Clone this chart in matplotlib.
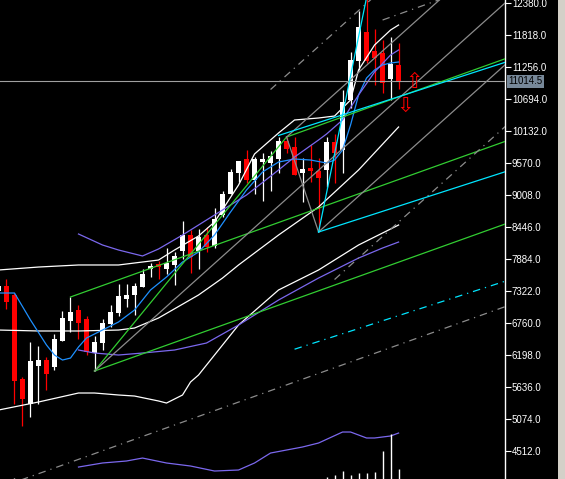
import matplotlib
matplotlib.use("Agg")
import matplotlib.pyplot as plt
import matplotlib.transforms as mtransforms
from matplotlib.patches import Rectangle

# OHLC per bar (bar 0 is the partly hidden one at the left edge)
opens = [7328, 7416, 7258, 5783, 5344, 6011, 6116, 5993, 6450, 6801,
         6994, 6836, 6239, 6415, 6749, 6942, 7188, 7258, 7398, 7714,
         7802, 7714, 7785, 8030, 8311, 8030, 8311, 8118, 8663, 9031,
         9400, 9646, 9277, 9593, 9576, 9646, 9962, 9857, 9400, 9488,
         9435, 9453, 9944, 9804, 10682, 11367, 11876, 11542, 11507, 11051,
         11297]
highs = [7433, 7539, 7293, 5818, 6432, 6362, 6169, 6573, 6977, 7223,
         7082, 6889, 6538, 6836, 7082, 7451, 7451, 7469, 7714, 7820,
         7855, 8083, 8013, 8557, 8399, 8417, 8452, 8786, 9084, 9470,
         9611, 9804, 9681, 9751, 9786, 10032, 10032, 10032, 9664, 9892,
         9664, 10032, 10085, 10858, 11525, 12245, 12480, 11929, 11736, 11788,
         11683]
lows = [7293, 7012, 5344, 4957, 5115, 5344, 5590, 5941, 6450, 6608,
        6485, 6204, 5923, 6292, 6696, 6889, 7047, 6907, 7398, 7574,
        7539, 7627, 7433, 7890, 7644, 7714, 8013, 8083, 8627, 9031,
        9242, 9225, 9031, 8908, 9084, 9400, 9751, 9365, 8891, 9242,
        8364, 9154, 9225, 9400, 10542, 11209, 11332, 10945, 10805, 10682,
        10875]
closes = [7416, 7135, 5748, 5432, 6099, 6116, 5871, 6485, 6854, 6959,
          6766, 6257, 6432, 6766, 6959, 7240, 7258, 7416, 7627, 7767,
          7749, 7820, 7943, 8311, 7925, 8276, 8101, 8592, 9031, 9418,
          9611, 9277, 9646, 9646, 9699, 9962, 9822, 9365, 9470, 9435,
          9312, 9944, 9751, 10647, 11384, 11964, 11367, 11420, 10981, 11314,
          11014.5]
volumes = [0, 0, 10, 0, 0, 0, 0, 0, 0, 0,
           0, 0, 0, 0, 0, 0, 0, 0, 0, 0,
           0, 0, 0, 0, 0, 0, 0, 0, 0, 0,
           0, 0, 0, 0, 0, 0, 0, 0, 0, 0,
           0, 20, 40, 80, 40, 60, 60, 70, 280, 450,
           100]

# indicator lines (bar index, price)
bb_upper_x = [0, 5, 10, 15, 20, 22, 25, 27, 30, 32, 35, 37, 40, 42, 43, 44, 45, 47, 49, 50]
bb_upper = [7697, 7749, 7785, 7785, 7872, 8048, 8294, 8540, 9189, 9734,
            10103, 10331, 10366, 10401, 10542, 10682, 11209, 11648, 11911, 11999]
bb_mid_x = [0, 5, 10, 15, 17, 20, 25, 28, 30, 35, 40, 45, 50]
bb_mid = [6643, 6626, 6626, 6643, 6678, 6854, 7258, 7556, 7785, 8311, 8803, 9453, 10208]
bb_lower_x = [0, 5, 10, 12, 15, 17, 20, 21, 23, 24, 25, 30, 35, 40, 45, 50]
bb_lower = [5238, 5379, 5537, 5537, 5502, 5484, 5397, 5361, 5502, 5730,
            5853, 6731, 7346, 7697, 8136, 8487]

ma_fast_x = [0, 2, 4, 6, 7, 8, 9, 10, 11, 13, 15, 17, 19, 21, 23, 25, 27, 29,
             31, 33, 35, 37, 39, 41, 42, 43, 44, 45, 46, 47, 48, 49, 50]
ma_fast = [7293, 7293, 6819, 6380, 6204, 6116, 6151, 6345, 6503, 6643, 6784,
           6994, 7346, 7574, 7837, 8013, 8311, 8715, 9102, 9418, 9593, 9646,
           9628, 9576, 9628, 9804, 10243, 10770, 11068, 11209, 11297, 11332, 11349]

ma_slow_x = [10, 13, 15, 18, 20, 23, 27, 31, 35, 37, 40, 41, 43, 45, 47, 49, 50]
ma_slow = [8329, 8136, 8048, 7943, 8066, 8311, 8663, 9014, 9453, 9681,
           9980, 10085, 10331, 10770, 11174, 11472, 11560]

ma_low_x = [10, 12, 15, 18, 22, 26, 30, 35, 40, 45, 48, 50]
ma_low = [6292, 6239, 6204, 6239, 6292, 6415, 6731, 7170, 7556, 7907, 8083, 8188]

ma_bottom_x = [10, 13, 16, 18, 21, 24, 27, 30, 32, 34, 38, 40, 43, 44, 46, 47, 49, 50]
ma_bottom = [4237, 4308, 4343, 4395, 4308, 4255, 4167, 4185, 4308, 4483,
             4589, 4659, 4852, 4852, 4747, 4747, 4782, 4834]

# pitchfork anchor points (bar index, price)
green_fork = [(9, 7223), (36, 10032), (12, 5923)]
grey_fork = [(12, 5923), (36, 10032), (40, 8364)]
cyan_fork = [(35, 10059), (46, 12480), (40, 8364)]

bid = 11014.5
price_ticks = [12380, 11818, 11256, 10694, 10132, 9570, 9008, 8446,
               7884, 7322, 6760, 6198, 5636, 5074, 4512]

X_LEFT, X_RIGHT = 0.19, 63.3
Y_LOW, Y_HIGH = 4027, 12438

fig = plt.figure(figsize=(5.65, 4.79), dpi=100, facecolor="black")
ax = fig.add_axes([0, 0, 505 / 565, 1])
ax.set_facecolor("black")
ax.set_xlim(X_LEFT, X_RIGHT)
ax.set_ylim(Y_LOW, Y_HIGH)

# volumes along the bottom
vax = ax.twinx()
vax.set_ylim(0, 4790)
vax.vlines(range(len(volumes)), 0, volumes, color="white", lw=1.0)
vax.axis("off")

# candles
for i, (o, h, l, c) in enumerate(zip(opens, highs, lows, closes)):
    col = "white" if c >= o else "#ff0000"
    ax.vlines(i, l, h, color=col, lw=0.9, zorder=2)
    ax.bar(i, abs(c - o), bottom=min(o, c), width=0.62, color=col, lw=0, zorder=2)

# indicators
lw = 0.9
ax.plot(bb_upper_x, bb_upper, color="white", lw=lw, zorder=3)
ax.plot(bb_mid_x, bb_mid, color="white", lw=lw, zorder=3)
ax.plot(bb_lower_x, bb_lower, color="white", lw=lw, zorder=3)
ax.plot(ma_fast_x, ma_fast, color="#1e90ff", lw=lw, zorder=3)
ax.plot(ma_slow_x, ma_slow, color="#7b68ee", lw=lw, zorder=3)
ax.plot(ma_low_x, ma_low, color="#7b68ee", lw=lw, zorder=3)
ax.plot(ma_bottom_x, ma_bottom, color="#7b68ee", lw=lw, zorder=3)


def ray(p, d, **kw):
    # straight line from p in direction d, run past the right edge
    t = (X_RIGHT + 5 - p[0]) / d[0]
    ax.plot([p[0], p[0] + t * d[0]], [p[1], p[1] + t * d[1]], **kw)


def pitchfork(pts, color, level_color, level_style):
    p1, p2, p3 = pts
    mid = ((p2[0] + p3[0]) / 2, (p2[1] + p3[1]) / 2)
    d = (mid[0] - p1[0], mid[1] - p1[1])
    kw = dict(color=color, lw=lw, zorder=4)
    ray(p1, d, **kw)
    ray(p2, d, **kw)
    ray(p3, d, **kw)
    ax.plot([p2[0], p3[0]], [p2[1], p3[1]], **kw)
    # 200% levels, starting on the extended handle
    for a, b in ((p2, p3), (p3, p2)):
        start = (a[0] + (a[0] - b[0]) / 2, a[1] + (a[1] - b[1]) / 2)
        ray(start, d, color=level_color, lw=lw, ls=level_style, zorder=4)


pitchfork(green_fork, "#32cd32", "#8c8c8c", (0, (6, 4, 1, 4)))
pitchfork(grey_fork, "#8c8c8c", "#8c8c8c", (0, (6, 4, 1, 4)))
pitchfork(cyan_fork, "#00e5ff", "#00e5ff", (0, (6, 4, 1, 4)))

# bid line and arrows
ax.axhline(bid, color="#a0a0a0", lw=0.8, zorder=3)
ax.text(51.9, 11000, "\u21e7", color="#ff0000", fontsize=15, ha="center", va="center",
        family="DejaVu Sans", zorder=5)
ax.text(50.8, 10577, "\u21e9", color="#ff0000", fontsize=15, ha="center", va="center",
        family="DejaVu Sans", zorder=5)

# price scale on the right
for s in ("top", "left", "bottom"):
    ax.spines[s].set_visible(False)
ax.spines["right"].set_color("white")
ax.spines["right"].set_linewidth(1.0)
ax.set_xticks([])
ax.yaxis.tick_right()
ax.set_yticks(price_ticks)
ax.set_yticklabels([f"{v:.1f}" for v in price_ticks])
ax.tick_params(axis="y", colors="white", length=4, width=0.8, pad=1, labelsize=7)
for t in ax.get_yticklabels():
    t.set_fontfamily("Liberation Sans")

trans = mtransforms.blended_transform_factory(ax.transAxes, ax.transData)
ax.text(1.006, bid, f"{bid:.1f}", transform=trans, color="black", fontsize=7,
        family="Liberation Sans", va="center", ha="left", zorder=6,
        bbox=dict(boxstyle="square,pad=0.15", fc="#778899", ec="none"))

# window border on the far right
fig.patches.append(Rectangle((558 / 565, 0), 7 / 565, 1, transform=fig.transFigure,
                             fc="#d4d0c8", ec="none"))

fig.savefig("out.png", dpi=100, facecolor="black")
